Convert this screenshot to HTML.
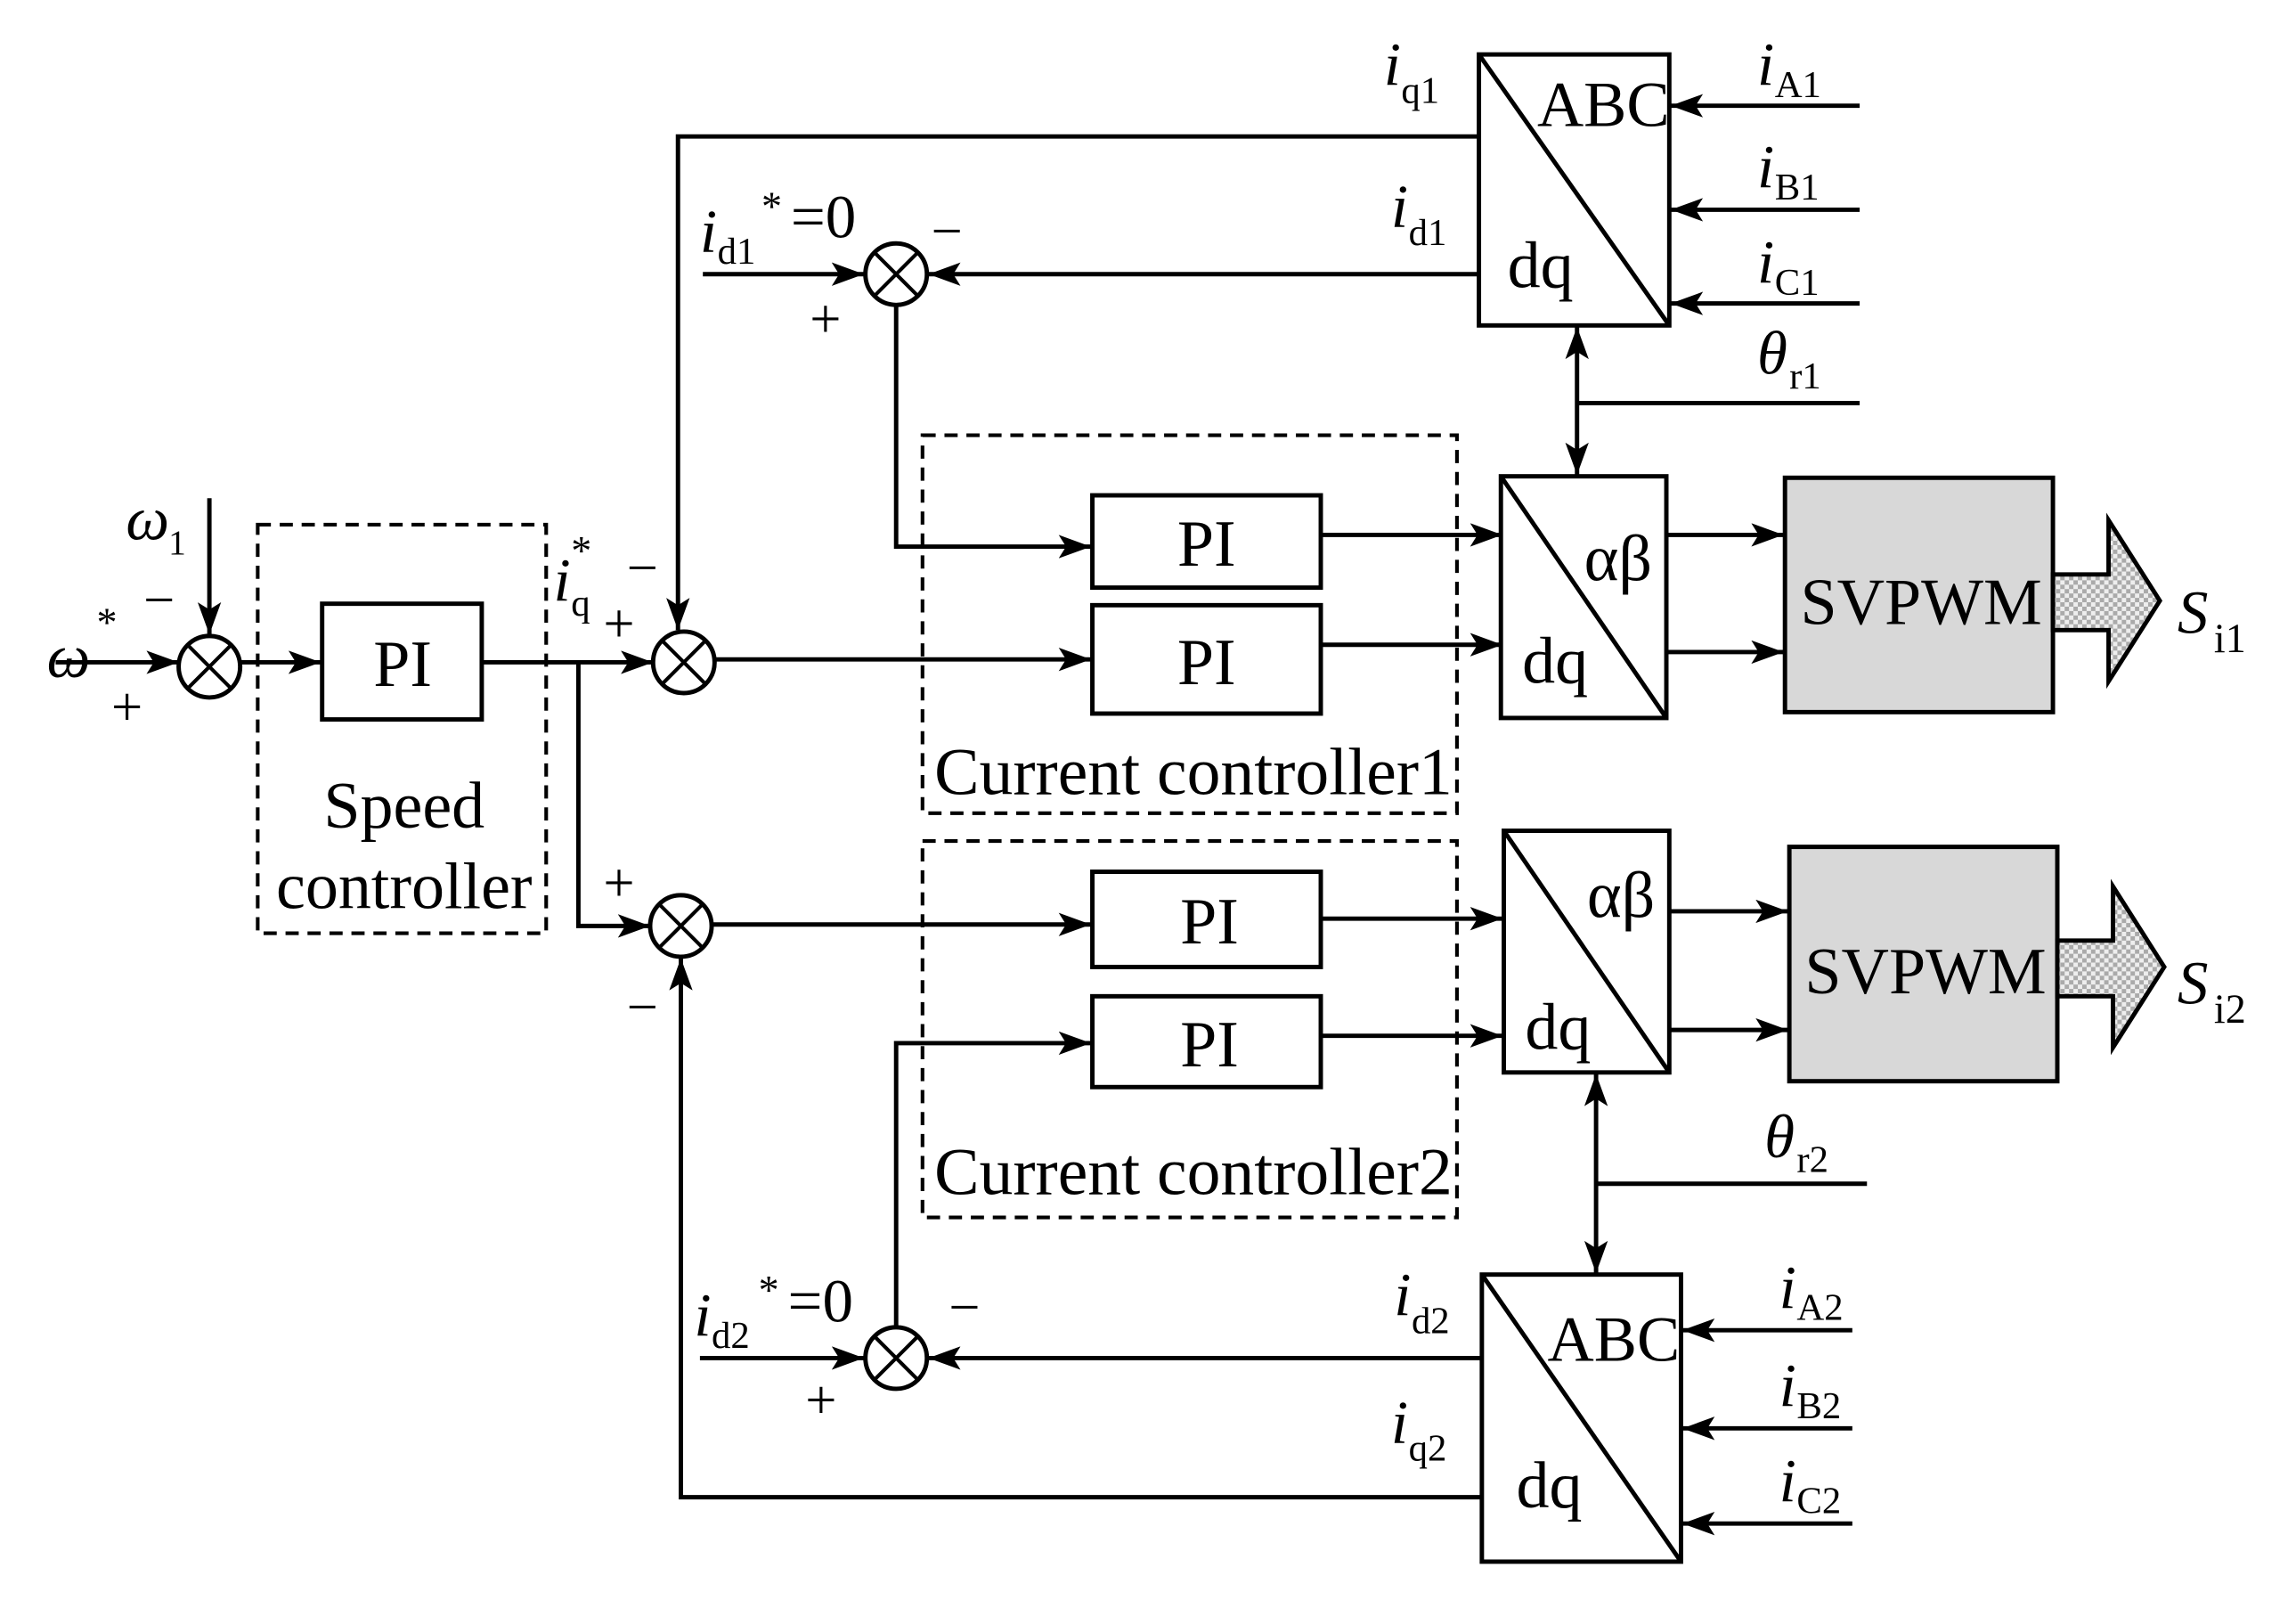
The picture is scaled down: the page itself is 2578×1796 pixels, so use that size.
<!DOCTYPE html>
<html><head><meta charset="utf-8"><style>
html,body{margin:0;padding:0;background:#fff;}
svg{display:block}
text{font-family:"Liberation Serif",serif;fill:#000}
</style></head><body>
<svg width="2578" height="1796" viewBox="0 0 1568 1092" xmlns="http://www.w3.org/2000/svg">
<defs>
<marker id="A" markerWidth="22" markerHeight="16" refX="22" refY="8" orient="auto-start-reverse" markerUnits="userSpaceOnUse"><path d="M0,0 L22,8 L0,16 L5,8 z" fill="#000"/></marker>
<pattern id="p" width="6" height="6" patternUnits="userSpaceOnUse"><rect width="6" height="6" fill="#eee"/><rect width="3" height="3" fill="#aaa"/><rect x="3" y="3" width="3" height="3" fill="#aaa"/></pattern>
</defs>
<g stroke="#000" stroke-width="3" fill="none">
<line x1="38" y1="452" x2="122" y2="452" marker-end="url(#A)"/>
<line x1="143" y1="340" x2="143" y2="433" marker-end="url(#A)"/>
<circle cx="143" cy="455" r="21"/>
<line x1="164" y1="452" x2="219" y2="452" marker-end="url(#A)"/>
<rect x="220" y="412" width="109" height="79"/>
<rect x="176" y="358" width="197" height="279" stroke-dasharray="9,6" stroke-width="2.5"/>
<line x1="329" y1="452" x2="446" y2="452" marker-end="url(#A)"/>
<polyline points="395,452 395,632 444,632" marker-end="url(#A)"/>
<circle cx="467" cy="452" r="21"/>
<circle cx="465" cy="632" r="21"/>
<polyline points="1010,93 463,93 463,430" marker-end="url(#A)"/>
<line x1="488" y1="450" x2="745" y2="450" marker-end="url(#A)"/>
<line x1="486" y1="631" x2="745" y2="631" marker-end="url(#A)"/>
<circle cx="612" cy="187" r="21"/>
<line x1="480" y1="187" x2="590" y2="187" marker-end="url(#A)"/>
<line x1="1010" y1="187" x2="634" y2="187" marker-end="url(#A)"/>
<polyline points="612,208 612,373 745,373" marker-end="url(#A)"/>
<rect x="746" y="338" width="156" height="63"/>
<rect x="746" y="413" width="156" height="74"/>
<rect x="746" y="595" width="156" height="65"/>
<rect x="746" y="680" width="156" height="62"/>
<rect x="630" y="297" width="365" height="258" stroke-dasharray="9,6" stroke-width="2.5"/>
<rect x="630" y="574" width="365" height="257" stroke-dasharray="9,6" stroke-width="2.5"/>
<line x1="902" y1="365" x2="1026" y2="365" marker-end="url(#A)"/>
<line x1="902" y1="440" x2="1026" y2="440" marker-end="url(#A)"/>
<line x1="902" y1="627" x2="1026" y2="627" marker-end="url(#A)"/>
<line x1="902" y1="707" x2="1026" y2="707" marker-end="url(#A)"/>
<rect x="1025" y="325" width="113" height="165"/><line x1="1025" y1="325" x2="1138" y2="490"/>
<rect x="1027" y="567" width="113" height="165"/><line x1="1027" y1="567" x2="1140" y2="732"/>
<line x1="1138" y1="365" x2="1218" y2="365" marker-end="url(#A)"/>
<line x1="1138" y1="445" x2="1218" y2="445" marker-end="url(#A)"/>
<line x1="1140" y1="622" x2="1221" y2="622" marker-end="url(#A)"/>
<line x1="1140" y1="703" x2="1221" y2="703" marker-end="url(#A)"/>
<rect x="1010" y="37" width="130" height="185"/><line x1="1010" y1="37" x2="1140" y2="222"/>
<rect x="1012" y="870" width="136" height="196"/><line x1="1012" y1="870" x2="1148" y2="1066"/>
<line x1="1270" y1="72" x2="1141" y2="72" marker-end="url(#A)"/>
<line x1="1270" y1="143" x2="1141" y2="143" marker-end="url(#A)"/>
<line x1="1270" y1="207" x2="1141" y2="207" marker-end="url(#A)"/>
<line x1="1265" y1="908" x2="1149" y2="908" marker-end="url(#A)"/>
<line x1="1265" y1="975" x2="1149" y2="975" marker-end="url(#A)"/>
<line x1="1265" y1="1040" x2="1149" y2="1040" marker-end="url(#A)"/>
<line x1="1077" y1="223" x2="1077" y2="324" marker-start="url(#A)" marker-end="url(#A)"/>
<line x1="1270" y1="275" x2="1077" y2="275"/>
<line x1="1090" y1="733" x2="1090" y2="869" marker-start="url(#A)" marker-end="url(#A)"/>
<line x1="1275" y1="808" x2="1090" y2="808"/>
<circle cx="612" cy="927" r="21"/>
<line x1="478" y1="927" x2="590" y2="927" marker-end="url(#A)"/>
<line x1="1012" y1="927" x2="634" y2="927" marker-end="url(#A)"/>
<polyline points="612,906 612,712 745,712" marker-end="url(#A)"/>
<polyline points="1012,1022 465,1022 465,654" marker-end="url(#A)"/>
</g>
<g stroke="#000" stroke-width="2.5">
<path d="M128,440 L158,470 M158,440 L128,470"/>
<path d="M452,437 L482,467 M482,437 L452,467"/>
<path d="M450,617 L480,647 M480,617 L450,647"/>
<path d="M597,172 L627,202 M627,172 L597,202"/>
<path d="M597,912 L627,942 M627,912 L597,942"/>
</g>
<rect x="1219" y="326" width="183" height="160" fill="#d8d8d8" stroke="#000" stroke-width="3"/>
<rect x="1222" y="578" width="183" height="160" fill="#d8d8d8" stroke="#000" stroke-width="3"/>
<path d="M1402,392 L1440,392 L1440,355 L1475,410 L1440,465 L1440,430 L1402,430 z" fill="url(#p)" stroke="#000" stroke-width="3"/>
<path d="M1405,642 L1443,642 L1443,605 L1478,660 L1443,715 L1443,680 L1405,680 z" fill="url(#p)" stroke="#000" stroke-width="3"/>
<g font-size="45">
<text x="1312" y="426" text-anchor="middle">SVPWM</text>
<text x="1315" y="678" text-anchor="middle">SVPWM</text>
<text x="275" y="468" text-anchor="middle">PI</text>
<text x="824" y="386" text-anchor="middle">PI</text>
<text x="824" y="467" text-anchor="middle">PI</text>
<text x="826" y="644" text-anchor="middle">PI</text>
<text x="826" y="728" text-anchor="middle">PI</text>
<text x="276" y="565" text-anchor="middle">Speed</text>
<text x="276" y="620" text-anchor="middle">controller</text>
<text x="815" y="542" text-anchor="middle" font-size="46">Current controller1</text>
<text x="815" y="815" text-anchor="middle" font-size="46">Current controller2</text>
<text x="1105" y="396" text-anchor="middle">αβ</text>
<text x="1062" y="466" text-anchor="middle">dq</text>
<text x="1107" y="626" text-anchor="middle">αβ</text>
<text x="1064" y="716" text-anchor="middle">dq</text>
<text x="1095" y="86" text-anchor="middle" font-size="44">ABC</text>
<text x="1052" y="196" text-anchor="middle">dq</text>
<text x="1102" y="929" text-anchor="middle" font-size="44">ABC</text>
<text x="1058" y="1029" text-anchor="middle">dq</text>
</g>
<g font-size="42">
<text x="32" y="462" font-style="italic">ω</text><text x="66" y="434" font-size="28">*</text>
<text x="86" y="368" font-style="italic">ω</text><text x="115" y="378" font-size="24">1</text>
<text x="378" y="410" font-style="italic">i</text><text x="390" y="420" font-size="26">q</text><text x="390" y="385" font-size="28">*</text>
<text x="478" y="172" font-style="italic">i</text><text x="490" y="180" font-size="26">d1</text><text x="520" y="150" font-size="28">*</text><text x="540" y="162">=0</text>
<text x="474" y="912" font-style="italic">i</text><text x="486" y="920" font-size="26">d2</text><text x="518" y="890" font-size="28">*</text><text x="538" y="902">=0</text>
<text x="945" y="58" font-style="italic">i</text><text x="957" y="70" font-size="26">q1</text>
<text x="950" y="155" font-style="italic">i</text><text x="962" y="167" font-size="26">d1</text>
<text x="952" y="898" font-style="italic">i</text><text x="964" y="910" font-size="26">d2</text>
<text x="950" y="985" font-style="italic">i</text><text x="962" y="997" font-size="26">q2</text>
<text x="1200" y="58" font-style="italic">i</text><text x="1212" y="66" font-size="26">A1</text>
<text x="1200" y="128" font-style="italic">i</text><text x="1212" y="136" font-size="26">B1</text>
<text x="1200" y="193" font-style="italic">i</text><text x="1212" y="201" font-size="26">C1</text>
<text x="1200" y="255" font-style="italic">θ</text><text x="1222" y="265" font-size="26">r1</text>
<text x="1205" y="790" font-style="italic">θ</text><text x="1227" y="800" font-size="26">r2</text>
<text x="1215" y="893" font-style="italic">i</text><text x="1227" y="901" font-size="26">A2</text>
<text x="1215" y="960" font-style="italic">i</text><text x="1227" y="968" font-size="26">B2</text>
<text x="1215" y="1025" font-style="italic">i</text><text x="1227" y="1033" font-size="26">C2</text>
<text x="1487" y="432" font-style="italic">S</text><text x="1512" y="445" font-size="28">i1</text>
<text x="1487" y="685" font-style="italic">S</text><text x="1512" y="698" font-size="28">i2</text>
</g>
<g font-size="38">
<text x="98" y="422">−</text><text x="76" y="495">+</text>
<text x="428" y="400">−</text><text x="412" y="438">+</text>
<text x="412" y="615">+</text><text x="428" y="700">−</text>
<text x="636" y="170">−</text><text x="553" y="230">+</text>
<text x="648" y="905">−</text><text x="550" y="968">+</text>
</g>
</svg>
</body></html>
